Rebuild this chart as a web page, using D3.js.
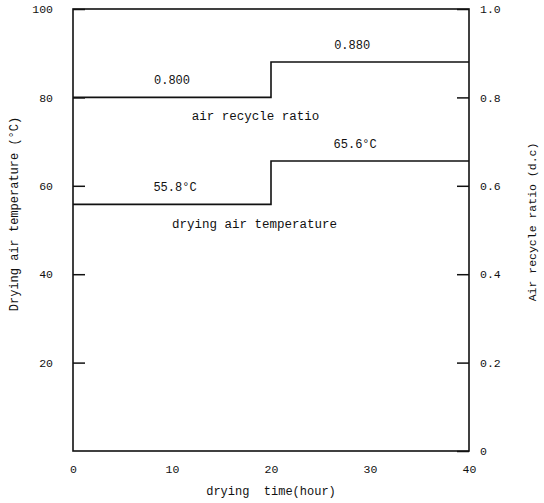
<!DOCTYPE html>
<html>
<head>
<meta charset="utf-8">
<script src="https://cdn.jsdelivr.net/npm/d3@7"></script>
<style>
  body { margin: 0; background: #fff; }
  svg text { font-family: "Liberation Mono", "DejaVu Sans Mono", monospace; fill: #111; }
  .axis path, .axis line { stroke: #111; stroke-width: 1.5; }
  .axis text { font-size: 11.5px; }
</style>
</head>
<body>
<script>
// drying schedule: step changes at 20 h
var stepTimes = [0, 20, 40]
var airTemp = [55.8, 65.6]        // degC
var recycleRatio = [0.800, 0.880] // -
var tempLabels = ["55.8\u00b0C", "65.6\u00b0C"]
var ratioLabels = ["0.800", "0.880"]
var labelAt = [10, 28.2]          // hour where each value label is centred

var xTicks = [0, 10, 20, 30, 40]
var leftTicks = [20, 40, 60, 80, 100]
var rightTicks = [0, 0.2, 0.4, 0.6, 0.8, 1.0]

var w = 544
var h = 503
var margin = {top: 9, right: 75, bottom: 52, left: 73}

var svg = d3.select("body").append("svg")
    .attr("width", w)
    .attr("height", h)

var x = d3.scaleLinear().domain([0, 40]).range([margin.left, w - margin.right])
var yT = d3.scaleLinear().domain([0, 100]).range([h - margin.bottom, margin.top])
var yR = d3.scaleLinear().domain([0, 1]).range([h - margin.bottom, margin.top])

// frame
svg.append("rect")
    .attr("x", x(0))
    .attr("y", yT(100))
    .attr("width", x(40) - x(0))
    .attr("height", yT(0) - yT(100))
    .attr("fill", "none")
    .attr("stroke", "#111")
    .attr("stroke-width", 1.6)

var xAxis = d3.axisBottom(x).tickValues(xTicks).tickSize(0).tickPadding(14)
svg.append("g")
    .attr("class", "axis")
    .attr("transform", "translate(0," + yT(0) + ")")
    .call(xAxis)
    .call(function (g) { g.select(".domain").remove() })

var leftAxis = d3.axisLeft(yT).tickValues(leftTicks).tickSizeInner(-12).tickSizeOuter(0).tickPadding(20)
svg.append("g")
    .attr("class", "axis")
    .attr("transform", "translate(" + x(0) + ",0)")
    .call(leftAxis)
    .call(function (g) { g.select(".domain").remove() })

var rightAxis = d3.axisRight(yR).tickValues(rightTicks).tickSizeInner(-12).tickSizeOuter(0).tickPadding(11)
    .tickFormat(function (d) { return d === 0 ? "0" : d3.format(".1f")(d) })
svg.append("g")
    .attr("class", "axis")
    .attr("transform", "translate(" + x(40) + ",0)")
    .call(rightAxis)
    .call(function (g) { g.select(".domain").remove() })

// step lines
var tempData = airTemp.map(function (v, i) { return {t: stepTimes[i], v: v} })
tempData.push({t: stepTimes[2], v: airTemp[airTemp.length - 1]})
var ratioData = recycleRatio.map(function (v, i) { return {t: stepTimes[i], v: v} })
ratioData.push({t: stepTimes[2], v: recycleRatio[recycleRatio.length - 1]})

svg.append("path")
    .datum(tempData)
    .attr("fill", "none")
    .attr("stroke", "#111")
    .attr("stroke-width", 1.6)
    .attr("d", d3.line().curve(d3.curveStepAfter)
        .x(function (d) { return x(d.t) })
        .y(function (d) { return yT(d.v) }))

svg.append("path")
    .datum(ratioData)
    .attr("fill", "none")
    .attr("stroke", "#111")
    .attr("stroke-width", 1.6)
    .attr("d", d3.line().curve(d3.curveStepAfter)
        .x(function (d) { return x(d.t) })
        .y(function (d) { return yR(d.v) }))

// value labels above each step
svg.selectAll(".tlab").data(airTemp).enter()
    .append("text")
    .attr("class", "tlab")
    .attr("x", function (d, i) { return x(labelAt[i]) + 3 })
    .attr("y", function (d) { return yT(d) - 13 })
    .attr("text-anchor", "middle")
    .attr("font-size", 12)
    .text(function (d, i) { return tempLabels[i] })

svg.selectAll(".rlab").data(recycleRatio).enter()
    .append("text")
    .attr("class", "rlab")
    .attr("x", function (d, i) { return x(labelAt[i]) })
    .attr("y", function (d) { return yR(d) - 13 })
    .attr("text-anchor", "middle")
    .attr("font-size", 12)
    .text(function (d, i) { return ratioLabels[i] })

svg.append("text")
    .attr("x", x(12.0))
    .attr("y", yR(recycleRatio[0]) + 23)
    .attr("font-size", 12.5)
    .text("air recycle ratio")

svg.append("text")
    .attr("x", x(10.0))
    .attr("y", yT(airTemp[0]) + 24)
    .attr("font-size", 12.5)
    .text("drying air temperature")

// axis titles
svg.append("text")
    .attr("x", x(20))
    .attr("y", 495)
    .attr("text-anchor", "middle")
    .attr("font-size", 12)
    .attr("xml:space", "preserve")
    .text("drying  time(hour)")

svg.append("text")
    .attr("transform", "translate(18,214) rotate(-90)")
    .attr("text-anchor", "middle")
    .attr("font-size", 12)
    .text("Drying air temperature (\u00b0C)")

svg.append("text")
    .attr("transform", "translate(536,222) rotate(-90)")
    .attr("text-anchor", "middle")
    .attr("font-size", 11.5)
    .text("Air recycle ratio (d.c)")
</script>
</body>
</html>
